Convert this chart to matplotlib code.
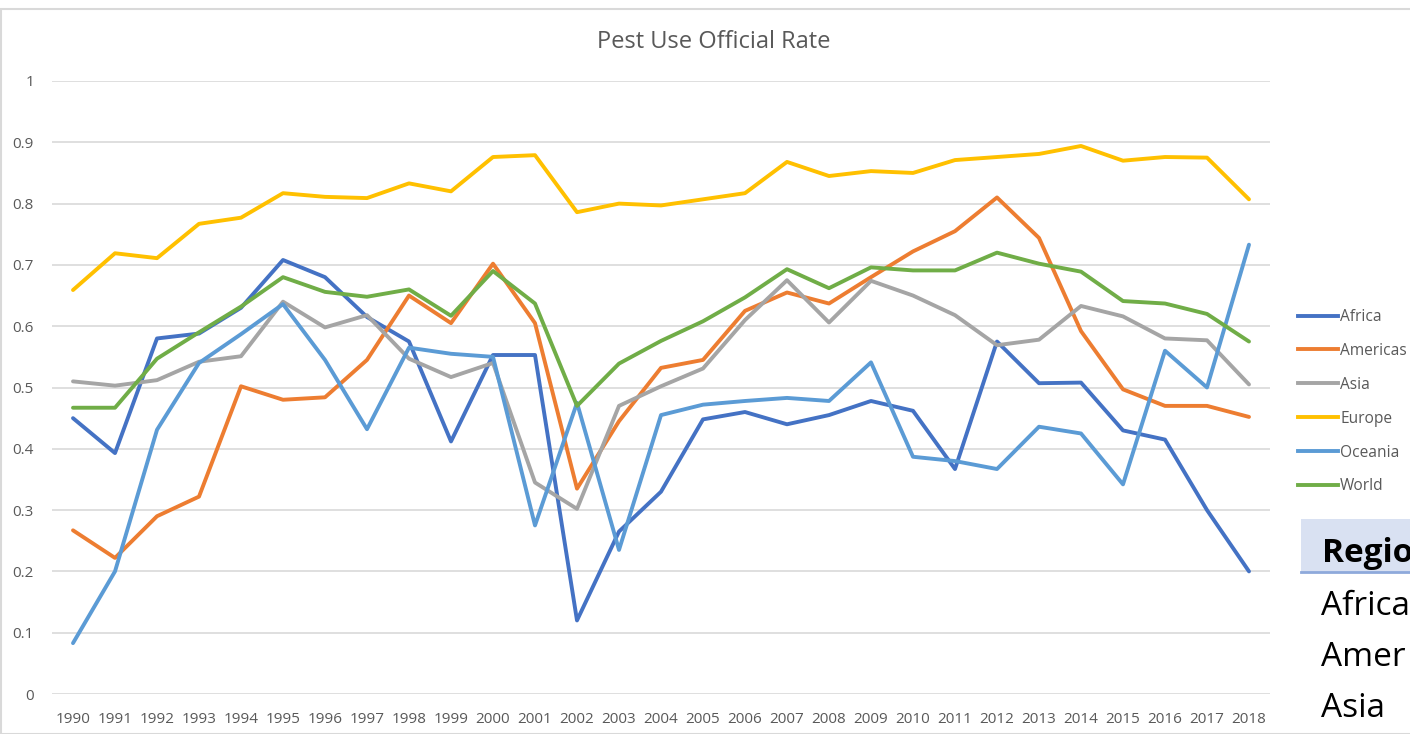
import matplotlib
matplotlib.use("Agg")
import matplotlib.pyplot as plt
from matplotlib.patches import Rectangle
from matplotlib.lines import Line2D

years = list(range(1990, 2019))
africa = [0.45, 0.393, 0.58, 0.588, 0.63, 0.708, 0.68, 0.615, 0.575, 0.412, 0.553, 0.553, 0.12, 0.265, 0.33,
          0.448, 0.46, 0.44, 0.455, 0.478, 0.462, 0.367, 0.575, 0.507, 0.508, 0.43, 0.415, 0.30, 0.20]
americas = [0.267, 0.222, 0.29, 0.322, 0.502, 0.48, 0.484, 0.545, 0.65, 0.605, 0.702, 0.605, 0.335, 0.445, 0.532,
            0.545, 0.625, 0.655, 0.637, 0.68, 0.722, 0.755, 0.81, 0.744, 0.592, 0.497, 0.47, 0.47, 0.452]
asia = [0.51, 0.503, 0.512, 0.542, 0.551, 0.64, 0.598, 0.618, 0.547, 0.517, 0.54, 0.345, 0.302, 0.47, 0.502,
        0.531, 0.61, 0.675, 0.606, 0.674, 0.65, 0.618, 0.569, 0.578, 0.633, 0.616, 0.58, 0.577, 0.505]
europe = [0.659, 0.719, 0.711, 0.767, 0.777, 0.817, 0.811, 0.809, 0.833, 0.82, 0.876, 0.879, 0.786, 0.8, 0.797,
          0.807, 0.817, 0.868, 0.845, 0.853, 0.85, 0.871, 0.876, 0.881, 0.894, 0.870, 0.876, 0.875, 0.807]
oceania = [0.083, 0.2, 0.431, 0.54, 0.587, 0.636, 0.545, 0.432, 0.565, 0.555, 0.55, 0.275, 0.475, 0.235, 0.455,
           0.472, 0.478, 0.483, 0.478, 0.541, 0.387, 0.38, 0.367, 0.436, 0.425, 0.342, 0.56, 0.5, 0.733]
world = [0.467, 0.467, 0.547, 0.59, 0.632, 0.68, 0.656, 0.648, 0.66, 0.617, 0.69, 0.637, 0.47, 0.539, 0.576,
         0.608, 0.647, 0.693, 0.662, 0.696, 0.691, 0.691, 0.72, 0.702, 0.689, 0.641, 0.637, 0.62, 0.575]

series_names = ["Africa", "Americas", "Asia", "Europe", "Oceania", "World"]
series_values = [africa, americas, asia, europe, oceania, world]
colors = ["#4472C4", "#ED7D31", "#A5A5A5", "#FFC000", "#5B9BD5", "#70AD47"]
y_ticks = [0, 0.1, 0.2, 0.3, 0.4, 0.5, 0.6, 0.7, 0.8, 0.9, 1]
y_tick_labels = ["0", "0.1", "0.2", "0.3", "0.4", "0.5", "0.6", "0.7", "0.8", "0.9", "1"]
table_header = "Regio"
table_rows = ["Africa", "Amer", "Asia"]

plt.rcParams['font.family'] = ['Open Sans', 'DejaVu Sans']
W, H = 1410, 734
fig = plt.figure(figsize=(W / 100, H / 100), dpi=100)
fig.patch.set_facecolor("white")

# outer chart border
fig.patches.append(Rectangle((1 / W, 0), 1.2, (H - 8.5) / H, transform=fig.transFigure,
                             fill=False, edgecolor="#D9D9D9", linewidth=1.5))

ax = fig.add_axes([52 / W, (H - 694) / H, (1270 - 52) / W, (694 - 81) / H])
for name, vals, c in zip(series_names, series_values, colors):
    ax.plot(years, vals, color=c, lw=2.8, label=name, solid_capstyle="round", solid_joinstyle="round")

ax.set_xlim(1989.5, 2018.5)
ax.set_ylim(0, 1)
ax.set_yticks(y_ticks)
ax.set_yticklabels(y_tick_labels)
ax.set_xticks(years)
ax.set_xticklabels([str(y) for y in years])
ax.grid(axis="y", color="#D9D9D9", lw=1.2)
ax.set_axisbelow(True)
for s in ax.spines.values():
    s.set_visible(False)
ax.tick_params(axis="both", length=0, colors="#595959", labelsize=11)
ax.tick_params(axis="y", pad=13)
ax.tick_params(axis="x", pad=13)

fig.text(714 / W, 1 - 42 / H, "Pest Use Official Rate", ha="center", va="center",
         fontsize=17, color="#595959")

# legend
handles = [Line2D([], [], color=c, lw=2.8) for c in colors]
leg = fig.legend(handles, series_names, loc="upper left",
                 bbox_to_anchor=(1298 / W, 1 - 309 / H), frameon=False,
                 fontsize=11.2, handlelength=2.6, handletextpad=0.1,
                 labelspacing=1.15, borderaxespad=0, borderpad=0)
for t in leg.get_texts():
    t.set_color("#595959")

# partial table at right
fig.patches.append(Rectangle((1301 / W, (H - 572) / H), (W - 1301) / W, 53 / H,
                             transform=fig.transFigure, facecolor="#D9E1F2", edgecolor="none"))
fig.lines.append(Line2D([1301 / W, 1], [(H - 572) / H] * 2, transform=fig.transFigure,
                        color="#8EA9DB", lw=2))
fig.text(1322 / W, 1 - 562 / H, table_header, ha="left", va="baseline", fontsize=24,
         fontweight="bold", color="black")
for i, r in enumerate(table_rows):
    fig.text(1321 / W, 1 - (615 + 51 * i) / H, r, ha="left", va="baseline", fontsize=24,
             color="black")

fig.savefig("out.png", dpi=100)
